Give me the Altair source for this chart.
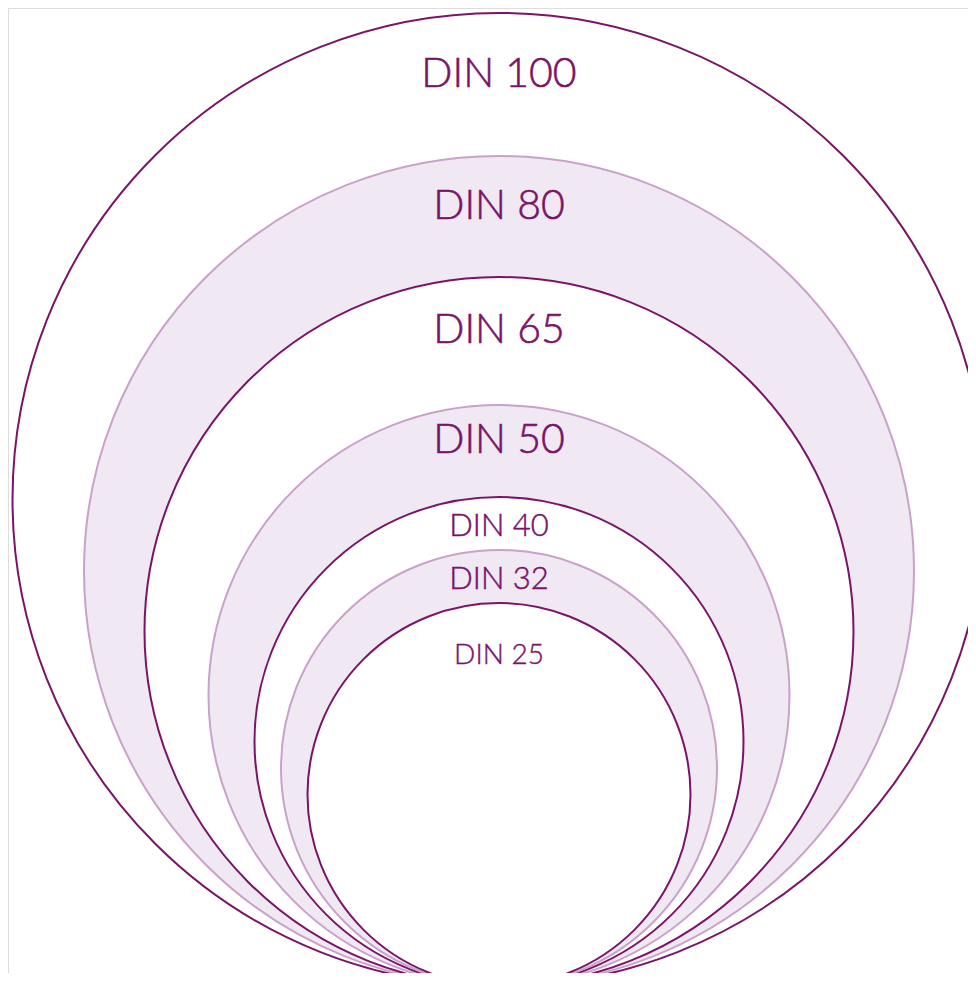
import altair as alt
import pandas as pd

# Hose sizes and measured outer diameters (drawing units), largest first
labels = ["DIN 100", "DIN 80", "DIN 65", "DIN 50", "DIN 40", "DIN 32", "DIN 25"]
diameters = [973, 830, 709, 581, 489, 436, 383]
kinds = ["plain", "shaded", "plain", "shaded", "plain", "shaded", "plain"]
label_group = ["big", "big", "big", "big", "mid", "mid", "small"]

DARK = "#7A1468"
LIGHT = "#C9A2C9"
SHADE = "#F0E8F2"

rows = []
for i, (lab, d, k, g) in enumerate(zip(labels, diameters, kinds, label_group)):
    nxt = diameters[i + 1] if i + 1 < len(diameters) else None
    mid = (d + nxt) / 2 if nxt is not None else d
    rows.append({
        "label": lab, "d": d, "kind": k, "group": g,
        "cx": 0, "cy": d / 2, "top": d, "mid": mid,
        # Vega circle symbol: radius = sqrt(size) / 2
        "area": d ** 2,
    })
df = pd.DataFrame(rows)

W, H = 960, 965
xs = alt.Scale(domain=[-491, 469], nice=False, zero=False)
ys = alt.Scale(domain=[13, 978], nice=False, zero=False)

base = alt.Chart(df)

circles = base.mark_circle(opacity=1, strokeWidth=2, strokeOpacity=1, fillOpacity=1).encode(
    x=alt.X("cx:Q", scale=xs, axis=None),
    y=alt.Y("cy:Q", scale=ys, axis=None),
    size=alt.Size("area:Q", scale=None, legend=None),
    fill=alt.Fill("kind:N", scale=alt.Scale(domain=["plain", "shaded"], range=["#FFFFFF", SHADE]), legend=None),
    stroke=alt.Stroke("kind:N", scale=alt.Scale(domain=["plain", "shaded"], range=[DARK, LIGHT]), legend=None),
    order=alt.Order("d:Q", sort="descending"),
)

font = "Lato"
weight = 300

big = base.transform_filter(alt.datum.group == "big").mark_text(
    font=font, fontSize=41, fontWeight=weight, color=DARK, stroke=DARK, strokeWidth=0.6,
    baseline="middle", align="center", dy=-10
).encode(x=alt.X("cx:Q", scale=xs, axis=None), y=alt.Y("mid:Q", scale=ys, axis=None), text="label:N")

mid = base.transform_filter(alt.datum.group == "mid").mark_text(
    font=font, fontSize=31, fontWeight=weight, color=DARK, stroke=DARK, strokeWidth=0.5,
    baseline="middle", align="center", dy=3
).encode(x=alt.X("cx:Q", scale=xs, axis=None), y=alt.Y("mid:Q", scale=ys, axis=None), text="label:N")

small = base.transform_filter(alt.datum.group == "small").mark_text(
    font=font, fontSize=28, fontWeight=weight, color=DARK, stroke=DARK, strokeWidth=0.4,
    baseline="middle", align="center", dy=53
).encode(x=alt.X("cx:Q", scale=xs, axis=None), y=alt.Y("top:Q", scale=ys, axis=None), text="label:N")

chart = alt.layer(circles, big, mid, small).properties(
    width=W, height=H, autosize=alt.AutoSizeParams(type="none"), padding=0
).configure_view(strokeWidth=0, stroke="transparent").configure(background="white")

chart.save("out.html", embed_options={"renderer": "svg", "actions": False})
